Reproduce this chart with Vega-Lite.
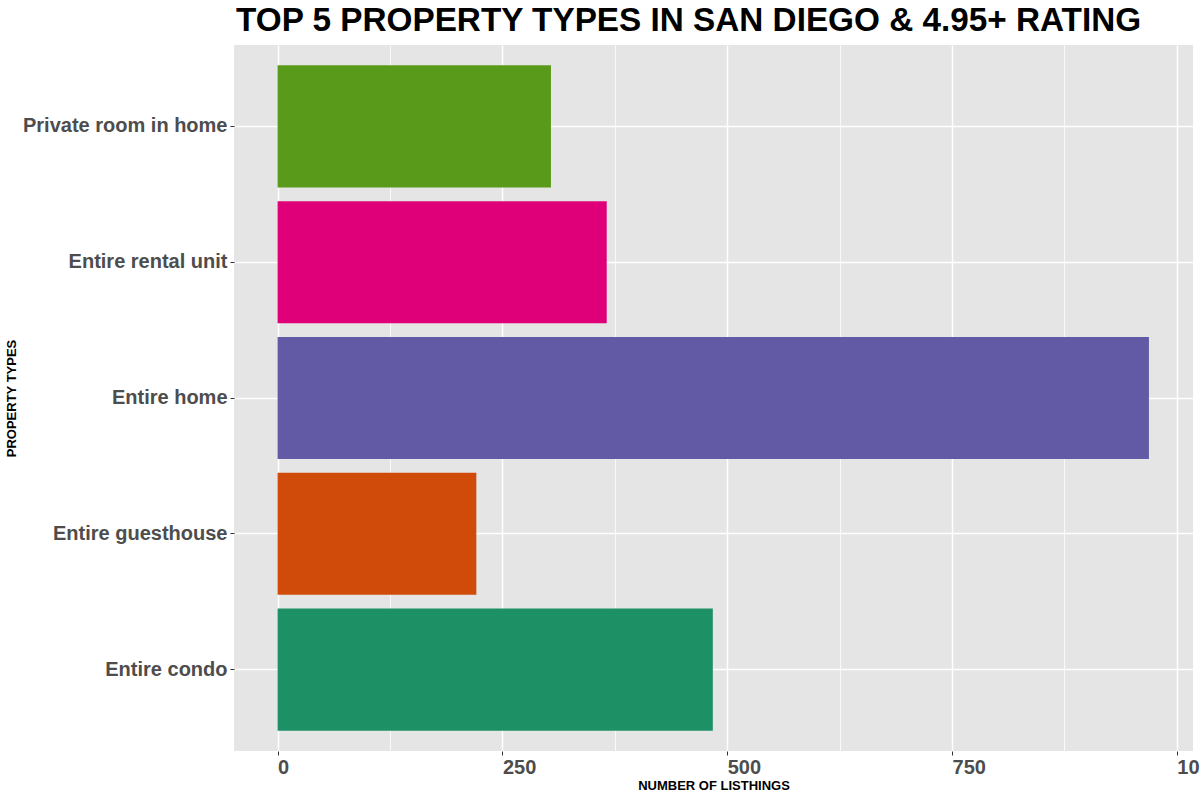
{
  "$schema": "https://vega.github.io/schema/vega-lite/v6.json",
  "autosize": {"type": "none"},
  "padding": {"left": 234, "top": 45, "right": 7, "bottom": 49},
  "width": 959,
  "height": 706,
  "background": "white",
  "title": {
    "text": "TOP 5 PROPERTY TYPES IN SAN DIEGO & 4.95+ RATING",
    "anchor": "start",
    "frame": "group",
    "font": "Liberation Sans",
    "fontSize": 33.3,
    "fontWeight": "bold",
    "color": "black",
    "offset": 7,
    "dx": 2
  },
  "config": {
    "view": {"fill": "#E5E5E5", "stroke": null},
    "font": "Liberation Sans"
  },
  "data": {
    "values": [
      {"property_type": "Entire condo", "listings": 484},
      {"property_type": "Entire guesthouse", "listings": 221},
      {"property_type": "Entire home", "listings": 969},
      {"property_type": "Entire rental unit", "listings": 366},
      {"property_type": "Private room in home", "listings": 304}
    ]
  },
  "mark": {"type": "bar"},
  "encoding": {
    "y": {
      "field": "property_type",
      "type": "nominal",
      "sort": "descending",
      "scale": {"paddingInner": 0.1, "paddingOuter": 0.15},
      "axis": {
        "title": "PROPERTY TYPES",
        "titleFont": "Liberation Sans",
        "titleFontSize": 13,
        "titleFontWeight": "bold",
        "titleColor": "black",
        "titleAngle": -90,
        "titleX": -219,
        "titleY": 353,
        "titleAlign": "center",
        "titleBaseline": "alphabetic",
        "labelFontSize": 20,
        "labelFontWeight": "bold",
        "labelColor": "#4D4D4D",
        "labelPadding": 3,
        "labelLimit": 400,
        "tickSize": 4,
        "tickColor": "#333333",
        "tickWidth": 1,
        "domain": false,
        "grid": true,
        "bandPosition": 0.5,
        "gridColor": "white",
        "gridWidth": 1.5
      }
    },
    "x": {
      "field": "listings",
      "type": "quantitative",
      "scale": {"domain": [-48.5, 1018], "nice": false, "zero": false},
      "axis": {
        "values": [0, 125, 250, 375, 500, 625, 750, 875, 1000],
        "labelExpr": "datum.value % 250 == 0 ? datum.label : ''",
        "format": "d",
        "title": "NUMBER OF LISTHINGS",
        "titleFont": "Liberation Sans",
        "titleFontSize": 13,
        "titleFontWeight": "bold",
        "titleColor": "black",
        "titleX": 479.5,
        "titleY": 38,
        "titleAlign": "center",
        "titleBaseline": "alphabetic",
        "labelFontSize": 20,
        "labelFontWeight": "bold",
        "labelColor": "#4D4D4D",
        "labelAlign": "left",
        "labelPadding": 2,
        "labelFlush": false,
        "labelOverlap": false,
        "labelBound": false,
        "tickSize": 4,
        "tickColor": "#333333",
        "tickWidth": 1,
        "tickOpacity": {"condition": {"test": "datum.value % 250 == 0", "value": 1}, "value": 0},
        "domain": false,
        "grid": true,
        "gridColor": "white",
        "gridWidth": {"condition": {"test": "datum.value % 250 == 0", "value": 1.5}, "value": 0.75}
      }
    },
    "color": {
      "field": "property_type",
      "type": "nominal",
      "legend": null,
      "scale": {
        "domain": ["Entire condo", "Entire guesthouse", "Entire home", "Entire rental unit", "Private room in home"],
        "range": ["#1E9066", "#D04B0A", "#625AA5", "#DF0079", "#5A9A1B"]
      }
    }
  }
}
